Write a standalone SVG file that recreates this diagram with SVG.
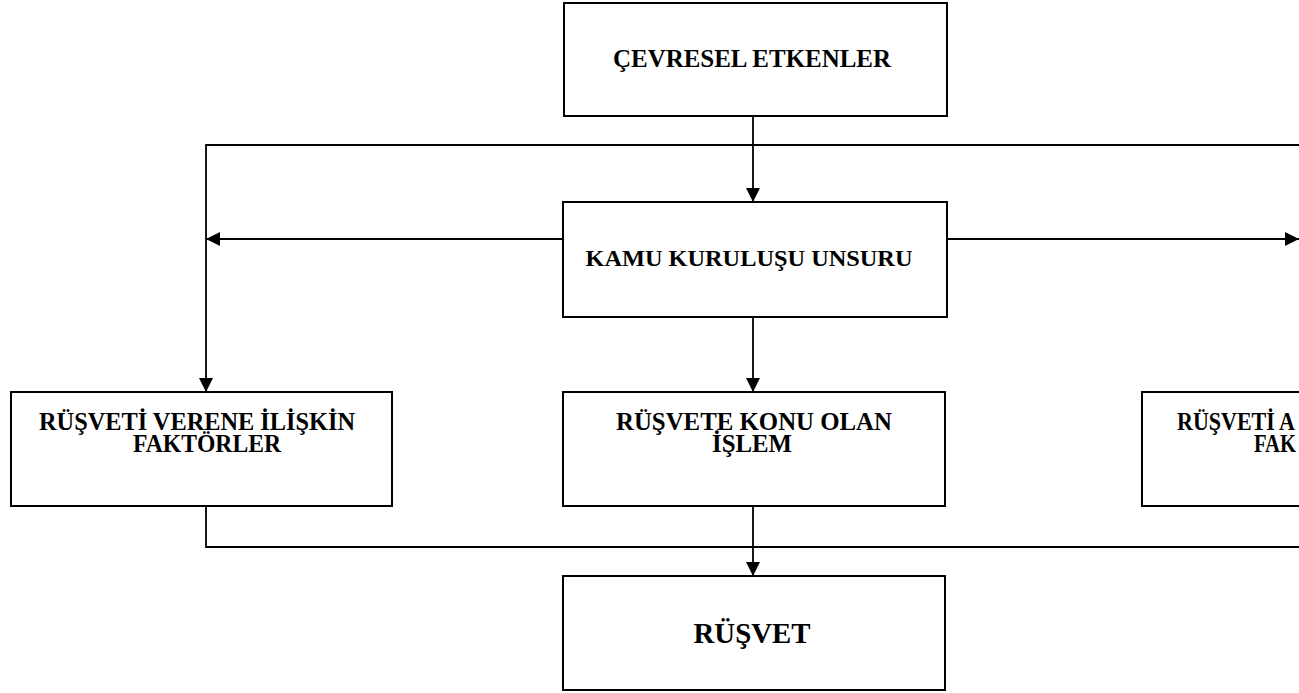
<svg xmlns="http://www.w3.org/2000/svg" width="1299" height="693" viewBox="0 0 1299 693">
<style>
.box{fill:#fff;stroke:#000;stroke-width:2}
.ln{fill:none;stroke:#000;stroke-width:1.8}
.t{font-family:"Liberation Serif","Times New Roman",serif;font-weight:bold;fill:#000;text-anchor:middle}
.ts{font-family:"Liberation Serif","Times New Roman",serif;font-weight:bold;fill:#000}
</style>
<defs>
<marker id="ah" markerWidth="14" markerHeight="14" refX="14" refY="7" orient="auto" markerUnits="userSpaceOnUse">
<path d="M0,0 L14,7 L0,14 Z" fill="#000"/>
</marker>
</defs>
<rect width="1299" height="693" fill="#fff"/>
<g id="connectors">
<line class="ln" x1="753" y1="116" x2="753" y2="202" marker-end="url(#ah)"/>
<polyline class="ln" points="1299,145 206,145 206,392" marker-end="url(#ah)"/>
<line class="ln" x1="563" y1="239" x2="206" y2="239" marker-end="url(#ah)"/>
<line class="ln" x1="947" y1="239" x2="1299" y2="239" marker-end="url(#ah)"/>
<line class="ln" x1="753" y1="317" x2="753" y2="392" marker-end="url(#ah)"/>
<polyline class="ln" points="206,506 206,547 1299,547"/>
<line class="ln" x1="753" y1="506" x2="753" y2="576" marker-end="url(#ah)"/>
</g>
<g id="cevresel">
<rect class="box" x="564" y="3" width="383" height="113"/>
<text class="t" x="752" y="67" font-size="25" textLength="278" lengthAdjust="spacingAndGlyphs">ÇEVRESEL ETKENLER</text>
</g>
<g id="kamu">
<rect class="box" x="563" y="202" width="384" height="115"/>
<text class="t" x="749" y="266" font-size="24" textLength="327" lengthAdjust="spacingAndGlyphs">KAMU KURULUŞU UNSURU</text>
</g>
<g id="veren">
<rect class="box" x="11" y="392" width="381" height="114"/>
<text class="t" font-size="25"><tspan x="197" y="430" textLength="316" lengthAdjust="spacingAndGlyphs">RÜŞVETİ VERENE İLİŞKİN</tspan><tspan x="207" y="452" textLength="148" lengthAdjust="spacingAndGlyphs">FAKTÖRLER</tspan></text>
</g>
<g id="islem">
<rect class="box" x="563" y="392" width="382" height="114"/>
<text class="t" font-size="25"><tspan x="754" y="430" textLength="276" lengthAdjust="spacingAndGlyphs">RÜŞVETE KONU OLAN</tspan><tspan x="752" y="452" textLength="80" lengthAdjust="spacingAndGlyphs">İŞLEM</tspan></text>
</g>
<g id="alan">
<rect class="box" x="1142" y="392" width="170" height="114"/>
<text class="ts" font-size="25"><tspan x="1177" y="430" textLength="118" lengthAdjust="spacingAndGlyphs">RÜŞVETİ A</tspan><tspan x="1254" y="452" textLength="42" lengthAdjust="spacingAndGlyphs">FAK</tspan></text>
</g>
<g id="rusvet">
<rect class="box" x="563" y="576" width="382" height="114"/>
<text class="t" x="752" y="643" font-size="29" textLength="117" lengthAdjust="spacingAndGlyphs">RÜŞVET</text>
</g>
</svg>
